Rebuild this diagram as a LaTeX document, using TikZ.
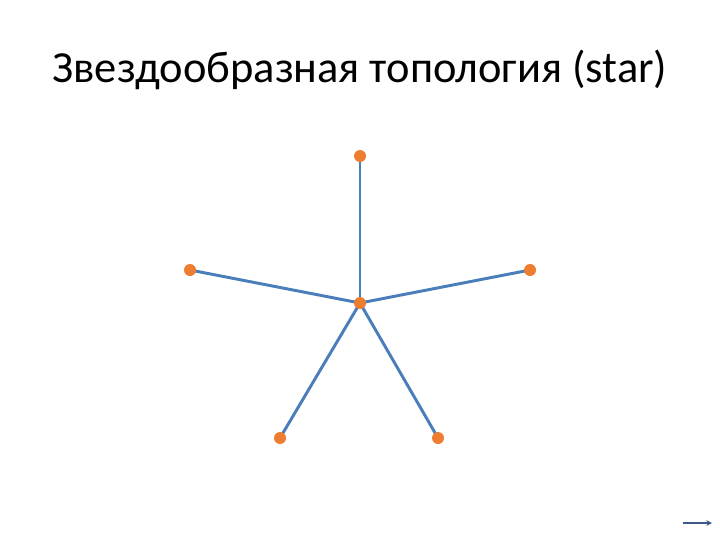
\documentclass[tikz,border=0pt]{standalone}
\usepackage{fontspec}
\setmainfont{Carlito}
\usetikzlibrary{arrows.meta,backgrounds}
\definecolor{StarBlue}{RGB}{74,126,187}
\definecolor{StarOrange}{RGB}{237,125,49}
\definecolor{NavBlue}{RGB}{60,90,135}
\tikzset{
	link/.style={StarBlue, line width=2.1pt},
	host/.style={circle, fill=StarOrange, inner sep=0pt, minimum size=0.3cm}
}
\begin{document}
\begin{tikzpicture}[x=0.025cm, y=-0.025cm]
	\useasboundingbox (0,0) rectangle (720,540);
%
	\node (title) at (360,70) {\fontsize{31.6}{38}\selectfont Звездообразная топология (star)};
%
	%hub and hosts
	\node[host] (c) at (360,303) {};
	\node[host] (t) at (360,156) {};
	\node[host] (l) at (190,270) {};
	\node[host] (r) at (530,270) {};
	\node[host] (bl) at (280,438) {};
	\node[host] (br) at (438,438) {};
%
	\begin{scope}[on background layer]
		\foreach \n in {t,l,r,bl,br}
			\draw[link] (c.center) -- (\n.center);
	\end{scope}
%
	%navigation arrow
	\coordinate (nav0) at (683,523);
	\coordinate (nav1) at (712,523);
	\draw[NavBlue, line width=1.1pt, -{Stealth[length=4pt,width=4pt]}] (nav0) -- (nav1);
\end{tikzpicture}
\end{document}
